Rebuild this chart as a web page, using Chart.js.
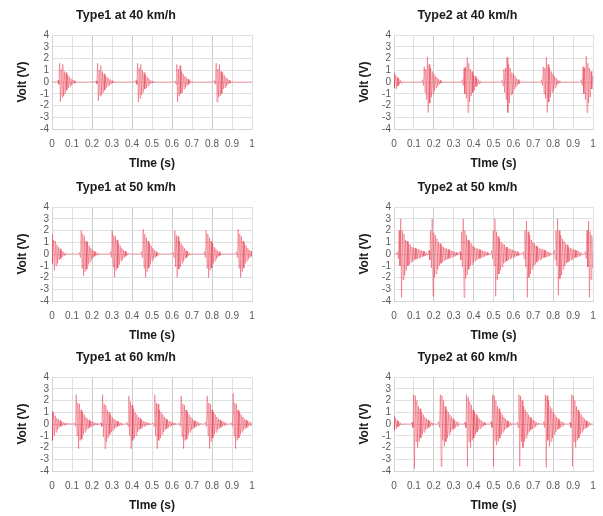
<!DOCTYPE html>
<html><head><meta charset="utf-8">
<script src="https://cdn.jsdelivr.net/npm/chart.js@4/dist/chart.umd.min.js"></script>
<style>
html,body{margin:0;padding:0;background:#fff;}
#wrap{position:relative;width:603px;height:516px;overflow:hidden;background:#fff;}
canvas{position:absolute;}
</style></head><body>
<div id="wrap">
<canvas id="c0"></canvas><canvas id="c1"></canvas><canvas id="c2"></canvas>
<canvas id="c3"></canvas><canvas id="c4"></canvas><canvas id="c5"></canvas>
</div>
<script>
// ---------- data ----------
const timeTicks = [0, 0.1, 0.2, 0.3, 0.4, 0.5, 0.6, 0.7, 0.8, 0.9, 1];
const timeLabels = ['0', '0.1', '0.2', '0.3', '0.4', '0.5', '0.6', '0.7', '0.8', '0.9', '1'];
const voltTicks = [-4, -3, -2, -1, 0, 1, 2, 3, 4];
const voltLabels = ['-4', '-3', '-2', '-1', '0', '1', '2', '3', '4'];
const panelTitles = ['Type1 at 40 km/h', 'Type2 at 40 km/h', 'Type1 at 50 km/h', 'Type2 at 50 km/h', 'Type1 at 60 km/h', 'Type2 at 60 km/h'];
const xTitle = 'TIme (s)';
const yTitle = 'Volt (V)';

// time between successive oscillation peaks (s)
const peakStep = 0.004;

// Type1 at 40 km/h : burst start times (s) and peak voltages (V)
const t1_40_starts = [0.030, 0.220, 0.420, 0.616, 0.813];
const t1_40_peaks = [
  [0.15,-0.2,1.6,-1.7,1.1,-1.3,1.5,-1.2,0.9,-1.0,0.8,-0.7,0.6,-0.5,0.45,-0.4,0.3,-0.25,0.2,-0.15,0.12,-0.1,0.06,-0.05],
  [0.1,-0.15,1.6,-1.6,1.0,-1.2,1.4,-1.1,0.9,-0.9,0.7,-0.7,0.55,-0.5,0.4,-0.35,0.3,-0.25,0.2,-0.15,0.1,-0.08,0.05],
  [0.15,-0.2,1.6,-1.7,1.2,-1.4,1.5,-1.1,1.0,-0.9,0.8,-0.6,0.6,-0.5,0.4,-0.35,0.3,-0.2,0.15,-0.12,0.08,-0.05],
  [0.1,-0.2,1.5,-1.7,1.1,-1.2,1.4,-1.0,0.9,-0.9,0.7,-0.6,0.5,-0.45,0.4,-0.3,0.25,-0.2,0.15,-0.1,0.06],
  [0.15,-0.2,1.6,-1.7,1.1,-1.3,1.5,-1.2,0.9,-1.0,0.8,-0.6,0.6,-0.5,0.4,-0.35,0.3,-0.2,0.15,-0.1,0.06,-0.04]
];

// Type2 at 40 km/h
const t2_40_starts = [0, 0.144, 0.344, 0.544, 0.742, 0.942];
const t2_40_peaks = [
  [0.8,-0.5,0.6,-0.6,0.4,-0.35,0.3,-0.2,0.15,-0.1,0.05],
  [0.2,-0.3,1.3,-0.9,1.1,-1.5,2.1,-2.6,1.5,-1.8,1.2,-1.3,0.9,-1.0,0.7,-0.7,0.5,-0.5,0.4,-0.35,0.25,-0.2,0.15,-0.1,0.05],
  [0.2,-0.3,1.2,-1.0,1.3,-1.4,2.1,-2.6,1.6,-1.7,1.1,-1.2,0.9,-0.9,0.6,-0.7,0.5,-0.4,0.35,-0.3,0.2,-0.15,0.1,-0.05],
  [0.15,-0.3,1.1,-0.9,1.2,-1.5,2.1,-2.6,1.5,-1.8,1.2,-1.1,0.8,-1.0,0.7,-0.6,0.5,-0.45,0.3,-0.3,0.2,-0.15,0.1],
  [0.2,-0.3,1.3,-1.0,1.2,-1.4,2.1,-2.6,1.5,-1.7,1.2,-1.3,0.9,-0.9,0.7,-0.7,0.5,-0.5,0.35,-0.3,0.2,-0.15,0.1,-0.05],
  [0.2,-0.3,1.3,-1.0,1.2,-1.5,2.2,-2.6,1.6,-1.8,1.2,-1.3,0.9,-0.6,0.5,-0.5]
];

// Type1 at 50 km/h
const t1_50_starts = [0, 0.138, 0.293, 0.448, 0.606, 0.763, 0.923];
const t1_50_peaks = [
  [1.7,-0.8,1.2,-1.4,1.1,-1.0,0.8,-0.8,0.6,-0.5,0.45,-0.4,0.3,-0.25,0.2,-0.15,0.1,-0.08,0.05],
  [0.15,-0.3,2.0,-1.2,1.7,-1.85,1.5,-1.5,1.1,-1.3,1.0,-0.9,0.7,-0.7,0.5,-0.45,0.35,-0.3,0.25,-0.2,0.15,-0.12,0.1,-0.06,0.04],
  [0.2,-0.3,2.0,-1.1,1.6,-2.0,1.5,-1.4,1.2,-1.2,0.9,-0.9,0.7,-0.6,0.5,-0.45,0.35,-0.3,0.25,-0.2,0.15,-0.1,0.06],
  [0.2,-0.3,2.1,-1.2,1.7,-2.0,1.4,-1.5,1.1,-1.2,0.9,-0.9,0.7,-0.6,0.5,-0.4,0.35,-0.3,0.2,-0.2,0.12,-0.1,0.05],
  [0.15,-0.3,2.0,-1.1,1.6,-2.0,1.5,-1.3,1.1,-1.1,0.9,-0.8,0.7,-0.6,0.5,-0.4,0.3,-0.3,0.2,-0.15,0.1,-0.06],
  [0.2,-0.3,2.0,-1.2,1.7,-2.0,1.4,-1.4,1.1,-1.2,0.9,-0.8,0.6,-0.6,0.45,-0.4,0.3,-0.25,0.2,-0.15,0.1,-0.05],
  [0.2,-0.3,2.1,-1.2,1.7,-2.0,1.5,-1.5,1.1,-1.2,0.9,-0.8,0.7,-0.6,0.5,-0.4,0.35,-0.3,0.25,-0.2]
];

// Type2 at 50 km/h
const t2_50_starts = [0.018, 0.176, 0.332, 0.491, 0.650, 0.806, 0.962];
const t2_50_peaks = [
  [0.2,-0.4,2.0,-1.0,3.0,-3.7,2.0,-2.2,1.7,-1.8,1.2,-1.4,1.1,-1.0,0.9,-0.9,0.8,-0.7,0.6,-0.6,0.55,-0.5,0.5,-0.45,0.45,-0.4,0.4,-0.35,0.35,-0.3,0.3,-0.25,0.25,-0.2,0.2,-0.15,0.1,-0.05],
  [0.3,-0.5,2.0,-1.2,3.0,-3.6,1.8,-2.0,1.6,-1.7,1.3,-1.3,1.0,-1.0,0.9,-0.8,0.7,-0.7,0.6,-0.55,0.5,-0.5,0.45,-0.45,0.4,-0.4,0.35,-0.3,0.3,-0.3,0.25,-0.2,0.2,-0.2,0.15,-0.1,0.1,-0.05],
  [0.2,-0.5,1.9,-1.1,3.0,-3.7,2.0,-2.1,1.6,-1.8,1.2,-1.3,1.1,-1.0,0.9,-0.9,0.7,-0.7,0.6,-0.6,0.5,-0.5,0.45,-0.4,0.4,-0.4,0.35,-0.3,0.3,-0.25,0.25,-0.2,0.2,-0.15,0.15,-0.1,0.05],
  [0.3,-0.4,2.0,-1.0,3.0,-3.6,1.9,-2.2,1.5,-1.7,1.3,-1.4,1.0,-1.1,0.9,-0.8,0.8,-0.7,0.6,-0.6,0.55,-0.5,0.45,-0.45,0.4,-0.35,0.35,-0.3,0.3,-0.25,0.25,-0.2,0.2,-0.15,0.1,-0.1,0.05],
  [0.2,-0.4,2.0,-1.1,2.8,-3.7,1.9,-2.0,1.6,-1.7,1.2,-1.3,1.0,-1.0,0.9,-0.9,0.7,-0.7,0.6,-0.55,0.5,-0.5,0.45,-0.4,0.4,-0.35,0.35,-0.3,0.3,-0.25,0.2,-0.2,0.15,-0.15,0.1,-0.05],
  [0.3,-0.5,2.0,-1.0,3.0,-3.5,2.0,-2.1,1.6,-1.8,1.3,-1.3,1.1,-1.0,0.9,-0.8,0.8,-0.7,0.6,-0.6,0.5,-0.5,0.45,-0.45,0.4,-0.35,0.35,-0.3,0.3,-0.25,0.25,-0.2,0.15,-0.15,0.1,-0.05],
  [0.2,-0.4,2.0,-1.1,2.8,-3.7,1.9,-2.2,1.6,-1.2]
];

// Type1 at 60 km/h
const t1_60_starts = [0, 0.113, 0.245, 0.376, 0.506, 0.638, 0.768, 0.898];
const t1_60_peaks = [
  [1.1,-1.4,1.0,-1.0,0.7,-0.7,0.5,-0.5,0.4,-0.3,0.3,-0.2,0.2,-0.15,0.15,-0.1,0.1,-0.08,0.08,-0.05,0.05],
  [0.1,-0.2,2.5,-1.0,1.8,-2.1,1.7,-1.4,1.2,-1.3,1.0,-0.9,0.8,-0.7,0.6,-0.5,0.45,-0.4,0.35,-0.3,0.25,-0.2,0.2,-0.15,0.15,-0.1,0.1,-0.08,0.06,-0.05],
  [0.1,-0.2,2.5,-1.1,1.7,-2.1,1.6,-1.5,1.2,-1.2,1.0,-0.9,0.8,-0.7,0.6,-0.55,0.45,-0.4,0.35,-0.3,0.25,-0.2,0.2,-0.15,0.12,-0.1,0.08,-0.05],
  [0.15,-0.2,2.4,-1.0,1.9,-2.1,1.6,-1.4,1.3,-1.2,1.0,-1.0,0.8,-0.7,0.6,-0.5,0.5,-0.4,0.35,-0.3,0.25,-0.2,0.2,-0.15,0.15,-0.1,0.1,-0.05],
  [0.1,-0.2,2.5,-1.0,1.8,-2.1,1.7,-1.4,1.2,-1.2,1.0,-0.9,0.8,-0.7,0.6,-0.5,0.45,-0.4,0.35,-0.3,0.25,-0.2,0.2,-0.15,0.15,-0.1,0.08,-0.05],
  [0.1,-0.2,2.4,-1.1,1.7,-2.1,1.6,-1.4,1.2,-1.3,1.0,-0.9,0.8,-0.7,0.6,-0.5,0.45,-0.4,0.3,-0.3,0.25,-0.2,0.2,-0.15,0.12,-0.1,0.06],
  [0.15,-0.2,2.4,-1.0,1.8,-2.1,1.7,-1.5,1.2,-1.2,1.0,-0.9,0.8,-0.7,0.6,-0.5,0.45,-0.4,0.35,-0.3,0.25,-0.2,0.2,-0.15,0.15,-0.1,0.08,-0.05],
  [0.1,-0.2,2.6,-1.0,1.8,-2.1,1.7,-1.4,1.2,-1.2,1.0,-0.9,0.8,-0.7,0.6,-0.5,0.45,-0.4,0.35,-0.3,0.25,-0.2,0.2,-0.15,0.15,-0.1]
];

// Type2 at 60 km/h
const t2_60_starts = [0, 0.091, 0.225, 0.357, 0.488, 0.620, 0.753, 0.885];
const t2_60_peaks = [
  [0.7,-0.5,0.5,-0.4,0.3,-0.25,0.2,-0.15,0.1,-0.05],
  [0.15,-0.3,2.5,-3.8,2.4,-1.5,2.0,-2.0,1.5,-1.5,1.3,-1.2,1.0,-0.9,0.8,-0.7,0.6,-0.5,0.45,-0.4,0.35,-0.3,0.25,-0.2,0.15,-0.1,0.08,-0.05],
  [0.2,-0.3,2.5,-3.6,2.4,-1.4,2.0,-1.9,1.5,-1.5,1.2,-1.2,1.0,-0.9,0.8,-0.7,0.6,-0.5,0.45,-0.4,0.3,-0.3,0.2,-0.2,0.15,-0.1,0.05],
  [0.15,-0.3,2.5,-3.6,2.3,-1.5,1.9,-2.0,1.6,-1.4,1.2,-1.2,1.0,-0.9,0.8,-0.7,0.6,-0.5,0.45,-0.4,0.35,-0.3,0.2,-0.2,0.15,-0.1,0.06],
  [0.2,-0.3,2.5,-3.6,2.4,-1.4,2.0,-1.8,1.5,-1.5,1.3,-1.2,1.0,-0.9,0.8,-0.7,0.6,-0.5,0.45,-0.4,0.3,-0.3,0.2,-0.2,0.15,-0.1,0.05],
  [0.15,-0.3,2.5,-3.6,2.4,-1.5,2.0,-2.0,1.5,-1.5,1.2,-1.2,1.0,-0.9,0.8,-0.7,0.6,-0.5,0.45,-0.4,0.35,-0.3,0.25,-0.2,0.15,-0.1,0.06],
  [0.2,-0.3,2.5,-3.7,2.4,-1.4,2.0,-1.9,1.5,-1.5,1.3,-1.2,1.0,-0.9,0.8,-0.7,0.6,-0.5,0.45,-0.4,0.3,-0.3,0.2,-0.2,0.15,-0.1,0.05],
  [0.15,-0.3,2.5,-3.6,2.4,-1.5,2.0,-2.0,1.5,-1.4,1.2,-1.2,1.0,-0.9,0.8,-0.7,0.6,-0.5,0.45,-0.4,0.3,-0.3,0.2,-0.2,0.15,-0.1,0.05]
];

// ---------- build ----------
function buildSeries(starts, peaks, step) {
  const pts = [{x: 0, y: 0}];
  let truncated = false;
  const add = (x, y) => { if (x <= 1 && x >= pts[pts.length - 1].x) pts.push({x: x, y: y}); };
  starts.forEach((s, i) => {
    const b = peaks[i];
    if (s - step > pts[pts.length - 1].x) add(s - step, 0);
    b.forEach((v, j) => add(+(s + j * step).toFixed(5), v));
    const e = +(s + b.length * step).toFixed(5);
    if (e <= 1) { add(e, 0); truncated = false; } else truncated = true;
  });
  if (!truncated && pts[pts.length - 1].x < 1) add(1, 0);
  return pts;
}

const panels = [
  {starts: t1_40_starts, peaks: t1_40_peaks},
  {starts: t2_40_starts, peaks: t2_40_peaks},
  {starts: t1_50_starts, peaks: t1_50_peaks},
  {starts: t2_50_starts, peaks: t2_50_peaks},
  {starts: t1_60_starts, peaks: t1_60_peaks},
  {starts: t2_60_starts, peaks: t2_60_peaks}
];

const colLeft = [0, 342];
const colWidth = [265, 266];
const colPadRight = [13, 15];
const rowTop = [0, 172, 342];
const H = 170;
const FONT = "'Liberation Sans', Arial, sans-serif";

panels.forEach((p, i) => {
  const col = i % 2, row = Math.floor(i / 2);
  const cv = document.getElementById('c' + i);
  cv.width = colWidth[col]; cv.height = H;
  cv.style.left = colLeft[col] + 'px'; cv.style.top = rowTop[row] + 'px';
  cv.style.width = colWidth[col] + 'px'; cv.style.height = H + 'px';
  new Chart(cv.getContext('2d'), {
    type: 'line',
    data: {
      datasets: [{
        data: buildSeries(p.starts, p.peaks, peakStep),
        borderColor: 'rgba(232,36,58,0.66)',
        borderWidth: 0.6,
        pointRadius: 0,
        tension: 0,
        fill: false
      }]
    },
    options: {
      responsive: false,
      animation: false,
      devicePixelRatio: 1,
      layout: {padding: {left: 0, right: colPadRight[col], top: 0, bottom: 0}},
      plugins: {
        legend: {display: false},
        tooltip: {enabled: false},
        title: {
          display: true, text: panelTitles[i], color: '#1a1a1a',
          font: {family: FONT, size: 12.5, weight: 'bold'},
          padding: {top: 8, bottom: 12}
        }
      },
      scales: {
        x: {
          type: 'linear', min: 0, max: 1,
          afterBuildTicks: s => { s.ticks = timeTicks.map(v => ({value: v})); },
          afterFit: s => { s.height = 41; },
          ticks: {
            autoSkip: false, maxRotation: 0, padding: 9, color: '#595959',
            font: {family: FONT, size: 10},
            callback: (v, idx) => timeLabels[idx]
          },
          grid: {
            drawTicks: false,
            color: ctx => (ctx.tick && Math.round(ctx.tick.value * 10) % 2 === 0 && ctx.tick.value > 0 && ctx.tick.value < 1) ? '#cbcbcb' : '#e0e0e0'
          },
          border: {color: '#d4d4d4'},
          title: {display: true, text: xTitle, color: '#1a1a1a', font: {family: FONT, size: 12, weight: 'bold'}, padding: {top: 0, bottom: -1}}
        },
        y: {
          type: 'linear', min: -4, max: 4,
          afterBuildTicks: s => { s.ticks = voltTicks.map(v => ({value: v})); },
          afterFit: s => { s.width = 52; },
          ticks: {
            autoSkip: false, padding: 3, color: '#595959',
            font: {family: FONT, size: 10},
            callback: (v, idx) => voltLabels[idx]
          },
          grid: {drawTicks: false, color: '#e0e0e0'},
          border: {color: '#d4d4d4'},
          title: {display: true, text: yTitle, color: '#1a1a1a', font: {family: FONT, size: 12, weight: 'bold'}, padding: {top: 15, bottom: 0}}
        }
      }
    }
  });
});
</script>
</body></html>
